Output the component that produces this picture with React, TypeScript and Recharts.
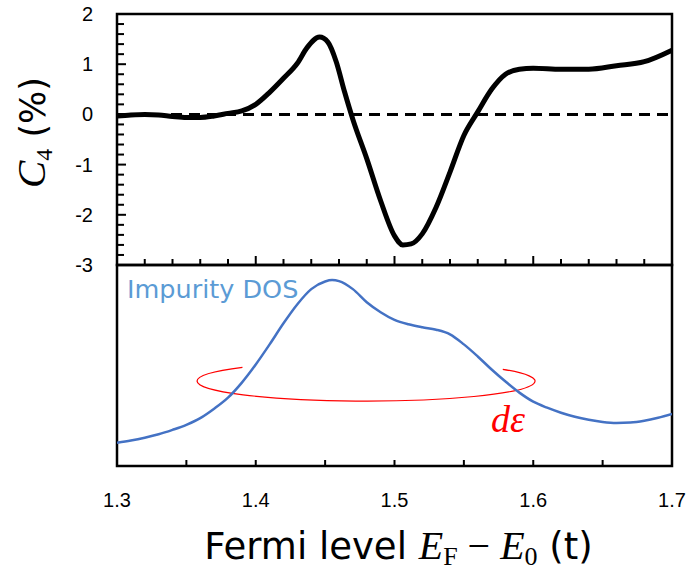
import {
    LineChart,
    Line,
    XAxis,
    YAxis,
    ReferenceLine,
    ReferenceArea,
    Label,
} from "recharts";

// C4 anisotropy (%) against Fermi level
const c4X = [
    1.3, 1.31, 1.32, 1.33, 1.34, 1.35, 1.36, 1.37, 1.38, 1.39, 1.4, 1.41, 1.42,
    1.43, 1.437, 1.446, 1.452, 1.458, 1.464, 1.47, 1.48, 1.49, 1.5, 1.506, 1.512,
    1.52, 1.53, 1.54, 1.55, 1.56, 1.57, 1.58, 1.59, 1.6, 1.62, 1.64, 1.66, 1.68,
    1.7,
];
const c4Values = [
    -0.03, -0.01, 0.0, -0.01, -0.04, -0.06, -0.06, -0.03, 0.02, 0.07, 0.2, 0.44,
    0.72, 1.02, 1.33, 1.54, 1.44, 1.05, 0.45, -0.1, -0.88, -1.72, -2.42, -2.6,
    -2.58, -2.38, -1.85, -1.15, -0.42, 0.05, 0.5, 0.8, 0.9, 0.92, 0.9, 0.9, 0.97,
    1.05, 1.28,
];

// impurity density of states (arb. units)
const dosX = [
    1.3, 1.31, 1.32, 1.33, 1.34, 1.35, 1.36, 1.37, 1.38, 1.39, 1.4, 1.41, 1.42,
    1.43, 1.44, 1.45, 1.455, 1.46, 1.47, 1.48, 1.49, 1.5, 1.51, 1.52, 1.53, 1.54,
    1.55, 1.56, 1.57, 1.58, 1.59, 1.6, 1.61, 1.62, 1.63, 1.64, 1.65, 1.66, 1.67,
    1.68, 1.69, 1.7,
];
const dosValues = [
    0.116, 0.127, 0.141, 0.158, 0.18, 0.205, 0.238, 0.285, 0.34, 0.415, 0.505,
    0.605, 0.71, 0.805, 0.88, 0.918, 0.925, 0.92, 0.88, 0.815, 0.765, 0.727,
    0.705, 0.69, 0.678, 0.655, 0.605, 0.545, 0.48, 0.42, 0.365, 0.32, 0.29,
    0.265, 0.245, 0.23, 0.219, 0.214, 0.216, 0.225, 0.24, 0.259,
];

const topXTicks = [
    1.3, 1.32, 1.34, 1.36, 1.38, 1.4, 1.42, 1.44, 1.46, 1.48, 1.5, 1.52, 1.54,
    1.56, 1.58, 1.6, 1.62, 1.64, 1.66, 1.68, 1.7,
];
const bottomXTicks = [1.3, 1.35, 1.4, 1.45, 1.5, 1.55, 1.6, 1.65, 1.7];
const yTicks = [
    -3, -2.8, -2.6, -2.4, -2.2, -2, -1.8, -1.6, -1.4, -1.2, -1, -0.8, -0.6, -0.4,
    -0.2, 0, 0.2, 0.4, 0.6, 0.8, 1, 1.2, 1.4, 1.6, 1.8, 2,
];

// the red dε ring, in data units
const ringX = [1.3577, 1.6013];
const ringY = [0.323, 0.522];

const c4Data = c4X.map((x, i) => ({ x, c4: c4Values[i] }));
const dosData = dosX.map((x, i) => ({ x, dos: dosValues[i] }));

const sans = "'DejaVu Sans', 'Noto Sans', sans-serif";
const serif = "'Liberation Serif', 'DejaVu Serif', serif";
const tickFont = "'Liberation Sans', Arial, sans-serif";

const isMultiple = (v: number, step: number) =>
    Math.abs(v / step - Math.round(v / step)) < 1e-6;

function LeftYTick(props: any) {
    const { x, y, payload } = props;
    const v = payload.value;
    const major = isMultiple(v, 1);
    return (
        <g>
            <line x1={x} y1={y} x2={x + (major ? 9 : 7)} y2={y} stroke="#000" strokeWidth={2} />
            {major && (
                <text x={x - 24} y={y} dy={7} textAnchor="end" fontSize={20} fontFamily={tickFont} fill="#000">
                    {Math.round(v)}
                </text>
            )}
        </g>
    );
}

function TopXTick(props: any) {
    const { x, y, payload } = props;
    const major = isMultiple(payload.value, 0.1);
    return <line x1={x} y1={y} x2={x} y2={y - (major ? 9 : 6)} stroke="#000" strokeWidth={2} />;
}

function BottomXTick(props: any) {
    const { x, y, payload } = props;
    const major = isMultiple(payload.value, 0.1);
    return (
        <g>
            <line x1={x} y1={y} x2={x} y2={y - 6} stroke="#000" strokeWidth={2} />
            {major && (
                <text x={x} y={y + 41} textAnchor="middle" fontSize={20} fontFamily={tickFont} fill="#000">
                    {payload.value.toFixed(1)}
                </text>
            )}
        </g>
    );
}

function YTitle(props: any) {
    const vb = props.viewBox;
    const bx = vb.x + 45;
    const cy = vb.y + vb.height / 2 - 7;
    return (
        <text
            x={bx}
            y={cy}
            transform={`rotate(-90, ${bx}, ${cy})`}
            textAnchor="middle"
            fill="#000"
            style={{ whiteSpace: "pre" }}
        >
            <tspan fontFamily={serif} fontStyle="italic" fontSize={41}>C</tspan>
            <tspan fontFamily={serif} fontSize={24} dy={7}>4</tspan>
            <tspan fontFamily={sans} fontSize={35} dy={-7}> (%)</tspan>
        </text>
    );
}

function XTitle(props: any) {
    const vb = props.viewBox;
    const cx = vb.x + vb.width / 2 + 4;
    const by = vb.y + 93;
    return (
        <text x={cx} y={by} textAnchor="middle" fill="#000" fontSize={37} fontFamily={sans} style={{ whiteSpace: "pre" }}>
            <tspan>Fermi level </tspan>
            <tspan fontFamily={serif} fontStyle="italic" fontSize={40}>E</tspan>
            <tspan fontFamily={serif} fontSize={26} dy={6}>F</tspan>
            <tspan fontFamily={serif} fontSize={40} dy={-6}> − </tspan>
            <tspan fontFamily={serif} fontStyle="italic" fontSize={40}>E</tspan>
            <tspan fontFamily={serif} fontSize={26} dy={6}>0</tspan>
            <tspan dy={-6}> (t)</tspan>
        </text>
    );
}

function DosLabel(props: any) {
    const vb = props.viewBox;
    return (
        <text x={vb.x + 10} y={vb.y + 33} fill="#5B9BD5" fontSize={25.5} fontFamily={sans}>
            Impurity DOS
        </text>
    );
}

function RingShape(props: any) {
    const { x, y, width, height } = props;
    const cx = x + width / 2;
    const cy = y + height / 2;
    const rx = width / 2;
    const ry = height / 2;
    const pt = (deg: number) => [
        cx + rx * Math.cos((deg * Math.PI) / 180),
        cy - ry * Math.sin((deg * Math.PI) / 180),
    ];
    const [sx, sy] = pt(137);
    const [ex, ey] = pt(36);
    return (
        <g>
            <path d={`M${sx},${sy} A${rx},${ry} 0 1 0 ${ex},${ey}`} fill="none" stroke="#FF0000" strokeWidth={1.2} />
            <text x={x + width - 44} y={y + height + 31} fill="#FF0000" fontSize={38} fontStyle="italic" fontFamily={serif}>
                dε
            </text>
        </g>
    );
}

export default function App() {
    return (
        <div style={{ position: "absolute", left: 0, top: 0, width: 689, height: 576, background: "#fff" }}>
            <div style={{ position: "absolute", left: 0, top: 0 }}>
                <LineChart width={689} height={280} data={c4Data} margin={{ top: 14, right: 17, bottom: 14, left: 0 }}>
                    <XAxis
                        dataKey="x"
                        type="number"
                        domain={[1.3, 1.7]}
                        ticks={topXTicks}
                        interval={0}
                        height={1}
                        tickSize={0}
                        tickMargin={0}
                        axisLine={false}
                        tickLine={false}
                        tick={(p: any) => <TopXTick {...p} />}
                        allowDataOverflow
                    />
                    <YAxis
                        type="number"
                        domain={[-3, 2]}
                        ticks={yTicks}
                        interval={0}
                        width={117}
                        tickSize={0}
                        tickMargin={0}
                        axisLine={false}
                        tickLine={false}
                        tick={(p: any) => <LeftYTick {...p} />}
                        allowDataOverflow
                    >
                        <Label content={(p: any) => <YTitle {...p} />} />
                    </YAxis>
                    <ReferenceArea x1={1.3} x2={1.7} y1={-3} y2={2} fill="none" fillOpacity={0} stroke="#000" strokeWidth={2.5} />
                    <ReferenceLine y={0} stroke="#000" strokeWidth={3} strokeDasharray="11 7" />
                    <Line type="monotone" dataKey="c4" stroke="#000" strokeWidth={5} dot={false} isAnimationActive={false} />
                </LineChart>
            </div>
            <div style={{ position: "absolute", left: 0, top: 263 }}>
                <LineChart width={689} height={313} data={dosData} margin={{ top: 2, right: 17, bottom: 0, left: 0 }}>
                    <XAxis
                        dataKey="x"
                        type="number"
                        domain={[1.3, 1.7]}
                        ticks={bottomXTicks}
                        interval={0}
                        height={110}
                        tickSize={0}
                        tickMargin={0}
                        axisLine={false}
                        tickLine={false}
                        tick={(p: any) => <BottomXTick {...p} />}
                        allowDataOverflow
                    >
                        <Label content={(p: any) => <XTitle {...p} />} />
                    </XAxis>
                    <YAxis type="number" domain={[0, 1]} width={117} tick={false} axisLine={false} tickLine={false} allowDataOverflow />
                    <ReferenceArea x1={1.3} x2={1.7} y1={0} y2={1} fill="none" fillOpacity={0} stroke="#000" strokeWidth={2.5}>
                        <Label content={(p: any) => <DosLabel {...p} />} />
                    </ReferenceArea>
                    <ReferenceArea
                        x1={ringX[0]}
                        x2={ringX[1]}
                        y1={ringY[0]}
                        y2={ringY[1]}
                        shape={(p: any) => <RingShape {...p} />}
                    />
                    <Line type="monotone" dataKey="dos" stroke="#4472C4" strokeWidth={2.5} dot={false} isAnimationActive={false} />
                </LineChart>
            </div>
        </div>
    );
}
